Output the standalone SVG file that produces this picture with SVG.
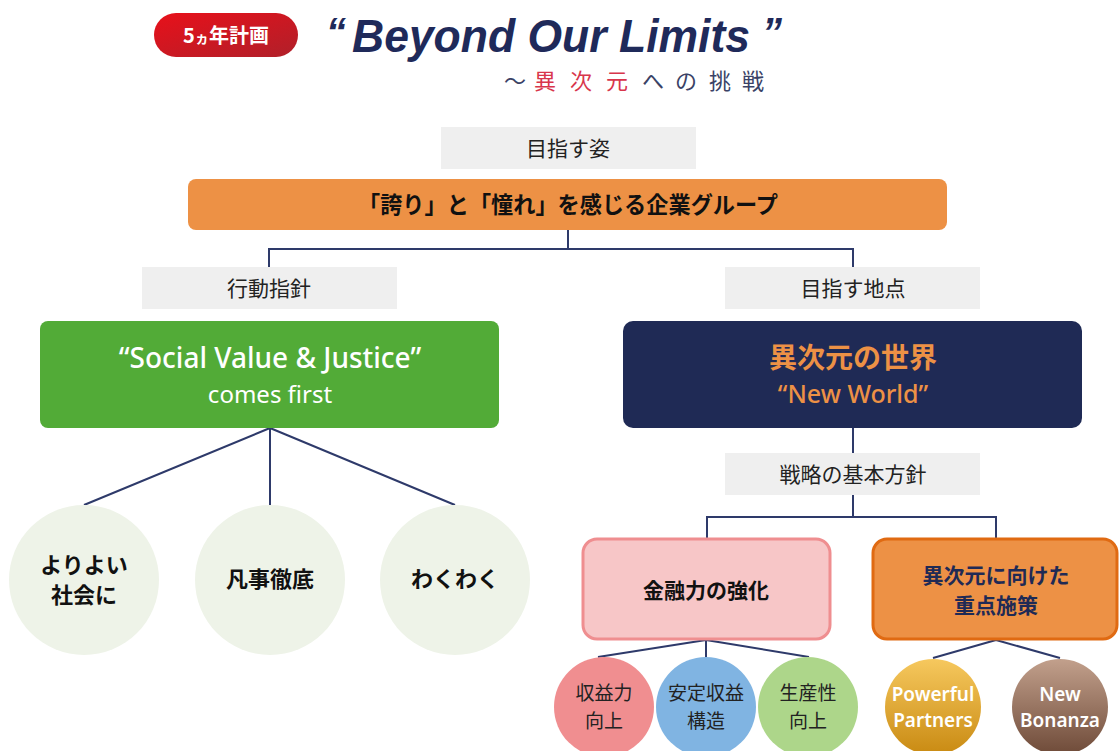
<svg xmlns="http://www.w3.org/2000/svg" width="1119" height="751" viewBox="0 0 1119 751">
<defs>
<linearGradient id="gBadge" x1="0" y1="0" x2="1" y2="1"><stop offset="0" stop-color="#E8101A"/><stop offset="1" stop-color="#B0202A"/></linearGradient>
<linearGradient id="gGold" x1="0" y1="0" x2="0" y2="1"><stop offset="0" stop-color="#F6C85E"/><stop offset="1" stop-color="#C98A12"/></linearGradient>
<linearGradient id="gBrown" x1="0" y1="0" x2="0" y2="1"><stop offset="0" stop-color="#C2A08C"/><stop offset="1" stop-color="#6E4A38"/></linearGradient>
<style>
.jp{font-family:"Noto Sans CJK JP","Noto Sans",sans-serif;}
.en{font-family:"Noto Sans","Open Sans",sans-serif;}
.lbl{fill:#EFEFEF;}
.lbltxt{font-size:21px;fill:#222;text-anchor:middle;}
.bold{font-weight:bold;}
.c{text-anchor:middle;}
.conn{stroke:#2E3A6A;stroke-width:2;fill:none;}
.ccirc{fill:#EEF3E8;}
.ctxt{font-size:22px;font-weight:bold;fill:#111;text-anchor:middle;}
.stxt{font-size:19px;fill:#222;text-anchor:middle;}
</style>
</defs>

<g id="header">
<rect x="154" y="13" width="144" height="44" rx="22" fill="url(#gBadge)"/>
<text x="226" y="43" class="jp bold c" font-size="20" fill="#fff">5<tspan font-size="14">ヵ</tspan>年計画</text>
<text x="326" y="46" font-family="Liberation Sans,Arial,sans-serif" font-style="italic" font-weight="bold" font-size="40" fill="#1F2A5A">“</text>
<text x="352" y="52" font-family="Liberation Sans,Arial,sans-serif" font-style="italic" font-weight="bold" font-size="46" fill="#1F2A5A" textLength="398" lengthAdjust="spacingAndGlyphs">Beyond Our Limits</text>
<text x="762" y="46" font-family="Liberation Sans,Arial,sans-serif" font-style="italic" font-weight="bold" font-size="40" fill="#1F2A5A">”</text>
<g class="jp" font-size="22" text-anchor="middle">
<text x="515" y="89" fill="#3A4266">～</text>
<text x="545" y="89" fill="#D8354B">異</text>
<text x="581" y="89" fill="#D8354B">次</text>
<text x="617" y="89" fill="#D8354B">元</text>
<text x="653" y="89" fill="#3A4266">へ</text>
<text x="686" y="89" fill="#3A4266">の</text>
<text x="720" y="89" fill="#3A4266">挑</text>
<text x="753" y="89" fill="#3A4266">戦</text>
</g>
</g>

<g id="connectors">
<path class="conn" d="M568 230 V249 M269 268 V249 H853 V268"/>
<path class="conn" d="M853 428 V453 M853 495 V517 M707 538 V517 H996 V538"/>
<path class="conn" d="M270 428 L84 505 M270 428 V505 M270 428 L455 505"/>
<path class="conn" d="M706 640 L598 657 M706 640 V657 M706 640 L809 657"/>
<path class="conn" d="M996 640 L933 658 M996 640 L1060 658"/>
</g>

<g id="label-mezasu-sugata">
<rect class="lbl" x="441" y="127" width="255" height="42"/>
<text class="jp lbltxt" x="568" y="156">目指す姿</text>
</g>
<g id="vision">
<rect x="188" y="179" width="759" height="51" rx="8" fill="#ED9145"/>
<text class="jp bold" x="358" y="213" font-size="23" fill="#111" textLength="420" lengthAdjust="spacingAndGlyphs">「誇り」と「憧れ」を感じる企業グループ</text>
</g>
<g id="label-koudou">
<rect class="lbl" x="142" y="267" width="255" height="42"/>
<text class="jp lbltxt" x="269" y="296">行動指針</text>
</g>
<g id="label-chiten">
<rect class="lbl" x="725" y="267" width="255" height="42"/>
<text class="jp lbltxt" x="853" y="296">目指す地点</text>
</g>
<g id="social-value">
<rect x="40" y="321" width="459" height="107" rx="8" fill="#52AB37"/>
<text class="en c" x="270" y="368" font-size="28" font-weight="500" fill="#fff">“Social Value &amp; Justice”</text>
<text class="en c" x="270" y="403" font-size="24" fill="#fff">comes first</text>
</g>
<g id="new-world">
<rect x="623" y="321" width="459" height="107" rx="10" fill="#1F2A55"/>
<text class="jp bold c" x="853" y="368" font-size="28" fill="#ED9145">異次元の世界</text>
<text class="en c" x="853" y="403" font-size="25" font-weight="500" fill="#ED9145">“New World”</text>
</g>
<g id="label-senryaku">
<rect class="lbl" x="725" y="453" width="255" height="42"/>
<text class="jp lbltxt" x="853" y="482">戦略の基本方針</text>
</g>

<g id="c-yoriyoi">
<circle class="ccirc" cx="84" cy="580" r="75"/>
<text class="jp ctxt" x="84" y="573">よりよい</text>
<text class="jp ctxt" x="84" y="603">社会に</text>
</g>
<g id="c-bonji">
<circle class="ccirc" cx="270" cy="580" r="75"/>
<text class="jp ctxt" x="270" y="587">凡事徹底</text>
</g>
<g id="c-wakuwaku">
<circle class="ccirc" cx="455" cy="580" r="75"/>
<text class="jp ctxt" x="455" y="587">わくわく</text>
</g>

<g id="kinyu">
<rect x="583" y="539" width="247" height="100" rx="14" fill="#F7C6C7" stroke="#EF8E90" stroke-width="3"/>
<text class="jp bold c" x="706" y="598" font-size="21" fill="#111">金融力の強化</text>
</g>
<g id="juten">
<rect x="873" y="539" width="244" height="100" rx="14" fill="#ED9145" stroke="#E06A12" stroke-width="3"/>
<text class="jp bold c" x="996" y="583" font-size="21" fill="#1F2A55">異次元に向けた</text>
<text class="jp bold c" x="996" y="613" font-size="21" fill="#1F2A55">重点施策</text>
</g>

<g id="c-shueki">
<circle cx="604" cy="707" r="50" fill="#F08E90"/>
<text class="jp stxt" x="604" y="700">収益力</text>
<text class="jp stxt" x="604" y="728">向上</text>
</g>
<g id="c-antei">
<circle cx="706" cy="707" r="50" fill="#80B4E2"/>
<text class="jp stxt" x="706" y="700">安定収益</text>
<text class="jp stxt" x="706" y="728">構造</text>
</g>
<g id="c-seisan">
<circle cx="808" cy="707" r="50" fill="#ADD68A"/>
<text class="jp stxt" x="808" y="700">生産性</text>
<text class="jp stxt" x="808" y="728">向上</text>
</g>
<g id="c-powerful">
<circle cx="933" cy="707" r="48" fill="url(#gGold)"/>
<text class="en c" x="933" y="701" font-size="19" font-weight="600" fill="#fff">Powerful</text>
<text class="en c" x="933" y="727" font-size="19" font-weight="600" fill="#fff">Partners</text>
</g>
<g id="c-bonanza">
<circle cx="1060" cy="707" r="48" fill="url(#gBrown)"/>
<text class="en c" x="1060" y="701" font-size="19" font-weight="600" fill="#fff">New</text>
<text class="en c" x="1060" y="727" font-size="19" font-weight="600" fill="#fff">Bonanza</text>
</g>
</svg>
